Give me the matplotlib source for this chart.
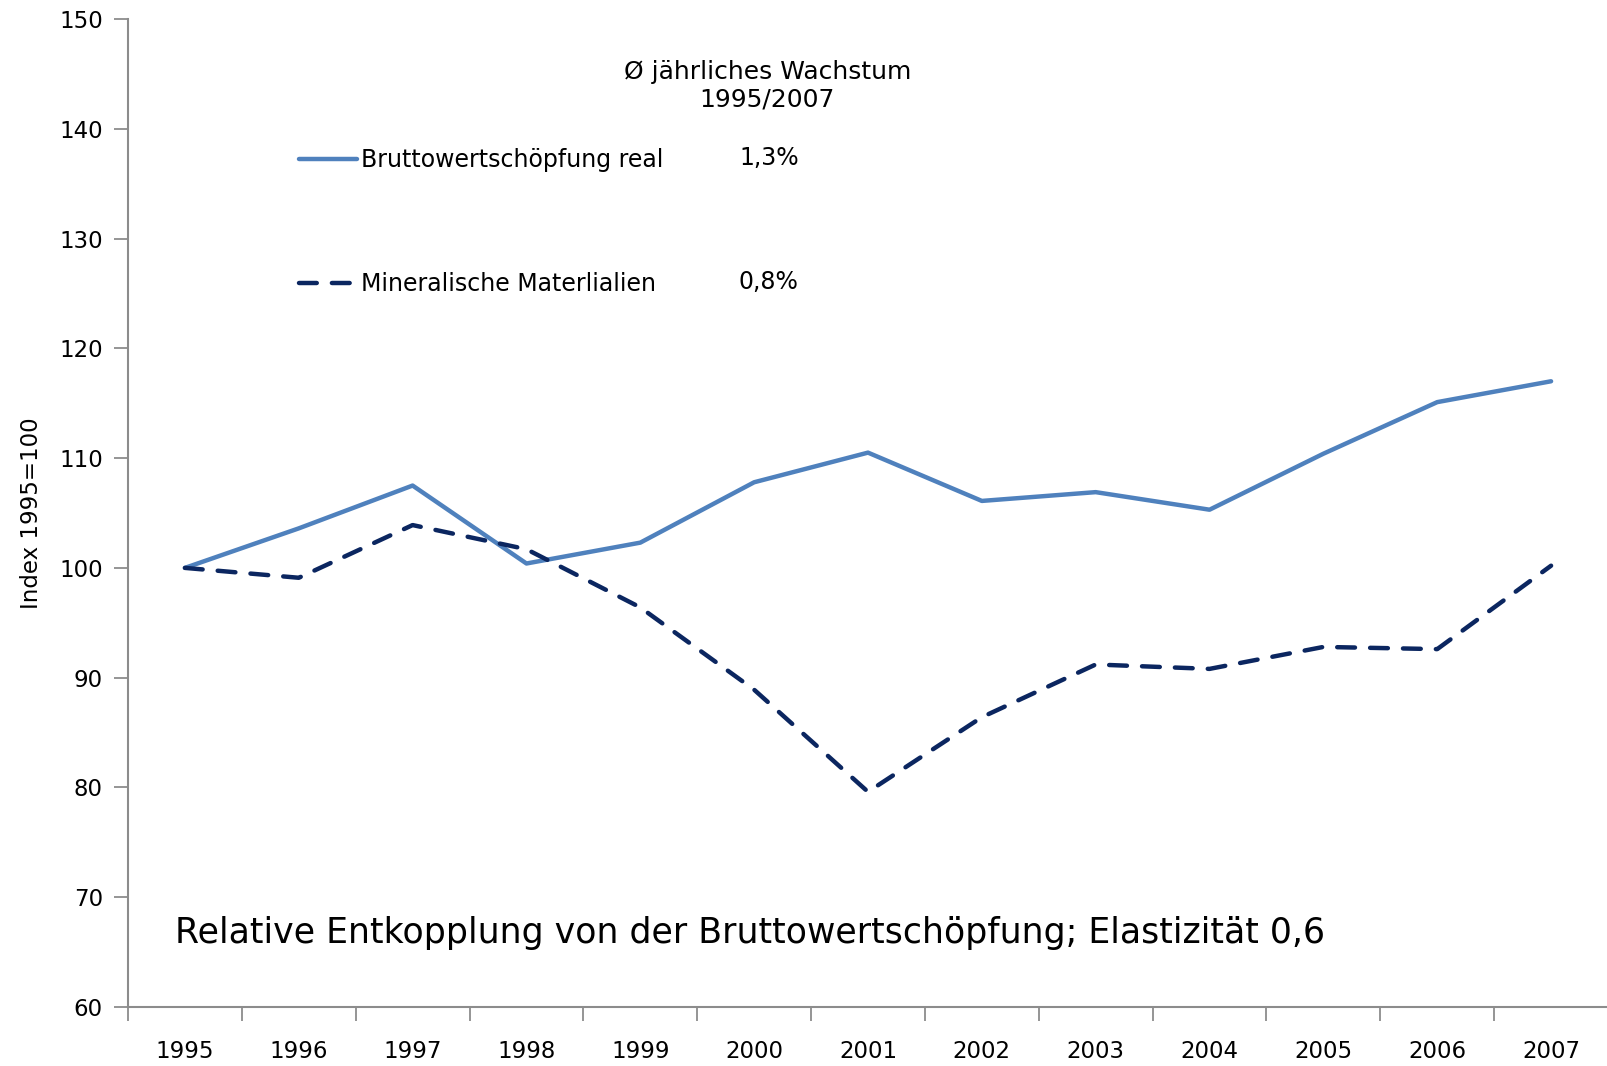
import matplotlib
matplotlib.use("Agg")
import matplotlib.pyplot as plt
from matplotlib.ticker import FixedLocator, NullFormatter

plt.rcParams["font.family"] = ["DejaVu Sans"]

years = ["1995", "1996", "1997", "1998", "1999", "2000", "2001",
         "2002", "2003", "2004", "2005", "2006", "2007"]
bws_real = [100.0, 103.6, 107.5, 100.4, 102.3, 107.8, 110.5,
            106.1, 106.9, 105.3, 110.4, 115.1, 117.0]
mineral = [100.0, 99.1, 103.9, 101.7, 96.4, 88.9, 79.6,
           86.4, 91.2, 90.8, 92.8, 92.6, 100.2]
series_labels = ["Bruttowertschöpfung real", "Mineralische Materlialien"]
growth_rates = ["1,3%", "0,8%"]
growth_header = "Ø jährliches Wachstum\n1995/2007"
note = "Relative Entkopplung von der Bruttowertschöpfung; Elastizität 0,6"
y_label = "Index 1995=100"
y_ticks = [60, 70, 80, 90, 100, 110, 120, 130, 140, 150]

light_blue = "#4F81BD"
navy = "#0B2660"
axis_grey = "#8C8C8C"

fig = plt.figure(figsize=(16.08, 10.66), dpi=100)
ax = fig.add_axes([128 / 1608, 59 / 1066, 1480 / 1608, 988 / 1066])

x = list(range(len(years)))
l1, = ax.plot(x, bws_real, color=light_blue, lw=3.2,
              solid_capstyle="round", solid_joinstyle="round",
              label=series_labels[0])
l2, = ax.plot(x, mineral, color=navy, lw=3.2,
              dashes=(4.0, 3.4), dash_capstyle="round",
              label=series_labels[1])

ax.set_xlim(-0.5, len(years) - 0.5)
ax.set_ylim(60, 150)
ax.set_yticks(y_ticks)

# Category axis: tick marks at the boundaries, labels at the centres
ax.xaxis.set_major_locator(FixedLocator([i - 0.5 for i in range(len(years) + 1)]))
ax.xaxis.set_major_formatter(NullFormatter())
ax.xaxis.set_minor_locator(FixedLocator(x))
ax.set_xticklabels(years, minor=True)
ax.tick_params(axis="x", which="major", length=10, width=1.3,
               color=axis_grey, direction="out")
ax.tick_params(axis="x", which="minor", length=0, pad=24, labelsize=16.5)
ax.tick_params(axis="y", length=10, width=1.3, color=axis_grey,
               direction="out", pad=8, labelsize=16.5)

for side in ("top", "right"):
    ax.spines[side].set_visible(False)
for side in ("left", "bottom"):
    ax.spines[side].set_color(axis_grey)
    ax.spines[side].set_linewidth(1.5)

ax.set_ylabel(y_label, fontsize=16.5, labelpad=12)

leg = ax.legend(handles=[l1, l2], loc="upper left",
                bbox_to_anchor=(0.101, 0.891), frameon=False,
                fontsize=17, handlelength=2.45, handletextpad=0.2,
                labelspacing=4.25)

ax.text(0.432, 0.959, growth_header, transform=ax.transAxes,
        ha="center", va="top", fontsize=18, linespacing=1.2)
ax.text(0.433, 0.859, growth_rates[0], transform=ax.transAxes,
        ha="center", va="center", fontsize=17)
ax.text(0.433, 0.734, growth_rates[1], transform=ax.transAxes,
        ha="center", va="center", fontsize=17)

ax.text(0.032, 0.075, note, transform=ax.transAxes,
        ha="left", va="center", fontsize=25)

fig.savefig("out.png", dpi=100)
